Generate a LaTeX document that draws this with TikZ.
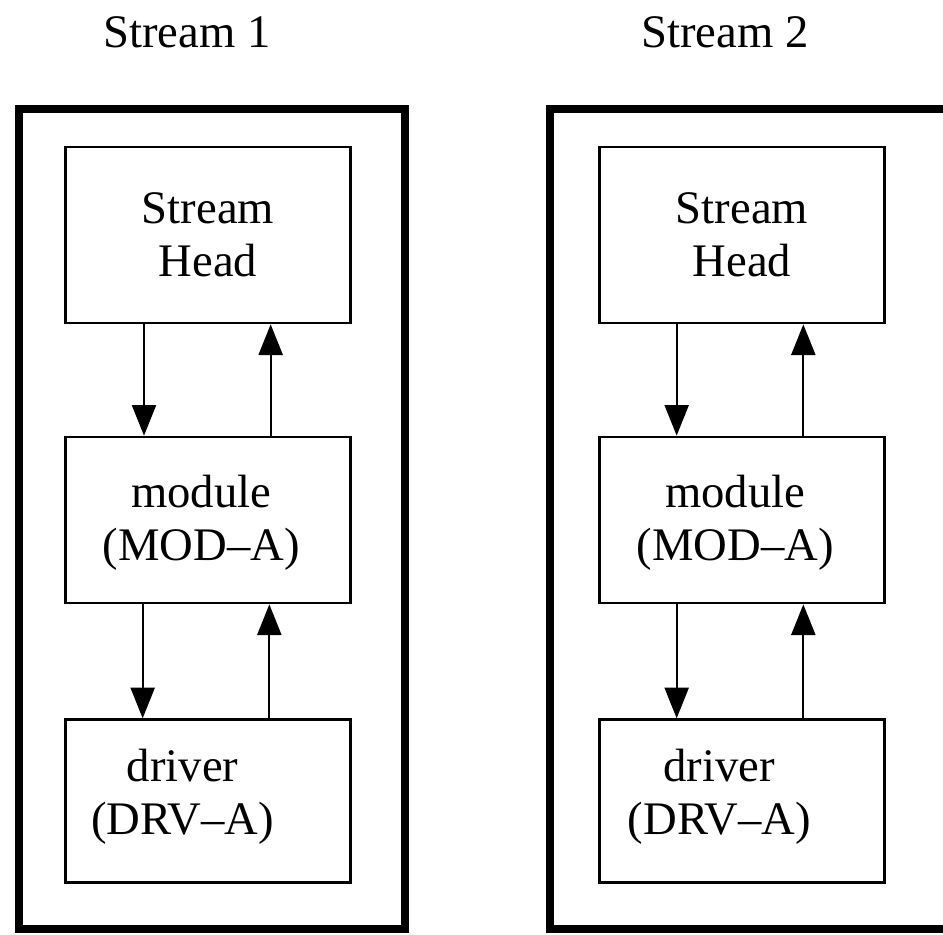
\documentclass[tikz,border=0pt]{standalone}
\usepackage{fontspec}
\setmainfont{Liberation Serif}
\usetikzlibrary{arrows.meta}
\tikzset{every picture/.style={line width=0.75pt}}
\tikzset{
unit/.style={draw, line width=2pt, minimum width=213.75pt, inner sep=0pt, align=center, font=\fontsize{35}{40}\selectfont},
unittext/.style={align=center, inner sep=0pt, font=\fontsize{35}{40}\selectfont},
frame/.style={line width=5.5pt},
flow/.style={line width=1.7pt, -{Triangle[width=18pt,length=23pt]}},
title/.style={anchor=base, inner sep=0pt, font=\fontsize{35}{40}\selectfont}}

\begin{document}
\begin{tikzpicture}[x=0.75pt,y=0.75pt,yscale=-1]
\useasboundingbox (0,0) rectangle (943,935);

%Frames
\begin{scope}
\clip (0,0) rectangle (943,935);
\draw[frame] (19,109) rectangle (405,929);
\draw[frame] (550,109) rectangle (970,929);
\end{scope}

% Text Node
\node[title] (title1) at (187,47) {Stream 1};
% Text Node
\node[title] (title2) at (725,47) {Stream 2};

% Text Node
\node[unit, minimum height=132pt] (head1) at (208,235) {Stream\\Head};
% Text Node
\node[unit, minimum height=124.5pt, label={[unittext, xshift=-5pt, yshift=-2pt]center:{module\\(MOD\textendash A)}}] (mod1) at (208,520) {};
% Text Node
\node[unit, minimum height=122pt, label={[unittext, xshift=-19pt, yshift=3pt]center:{driver\\(DRV\textendash A)}}] (drv1) at (208,801) {};

% Text Node
\node[unit, minimum height=132pt] (head2) at (742,235) {Stream\\Head};
% Text Node
\node[unit, minimum height=124.5pt, label={[unittext, xshift=-5pt, yshift=-2pt]center:{module\\(MOD\textendash A)}}] (mod2) at (742,520) {};
% Text Node
\node[unit, minimum height=122pt, label={[unittext, xshift=-17pt, yshift=3pt]center:{driver\\(DRV\textendash A)}}] (drv2) at (742,801) {};

%Straight Lines
\draw[flow] ([xshift=-48pt]head1.south) -- ([xshift=-48pt]mod1.north);
\draw[flow] ([xshift=47pt]mod1.north) -- ([xshift=47pt]head1.south);
\draw[flow] ([xshift=-49pt]mod1.south) -- ([xshift=-49pt]drv1.north);
\draw[flow] ([xshift=46pt]drv1.north) -- ([xshift=46pt]mod1.south);
%Straight Lines
\draw[flow] ([xshift=-49pt]head2.south) -- ([xshift=-49pt]mod2.north);
\draw[flow] ([xshift=46pt]mod2.north) -- ([xshift=46pt]head2.south);
\draw[flow] ([xshift=-49pt]mod2.south) -- ([xshift=-49pt]drv2.north);
\draw[flow] ([xshift=46pt]drv2.north) -- ([xshift=46pt]mod2.south);

\end{tikzpicture}
\end{document}
